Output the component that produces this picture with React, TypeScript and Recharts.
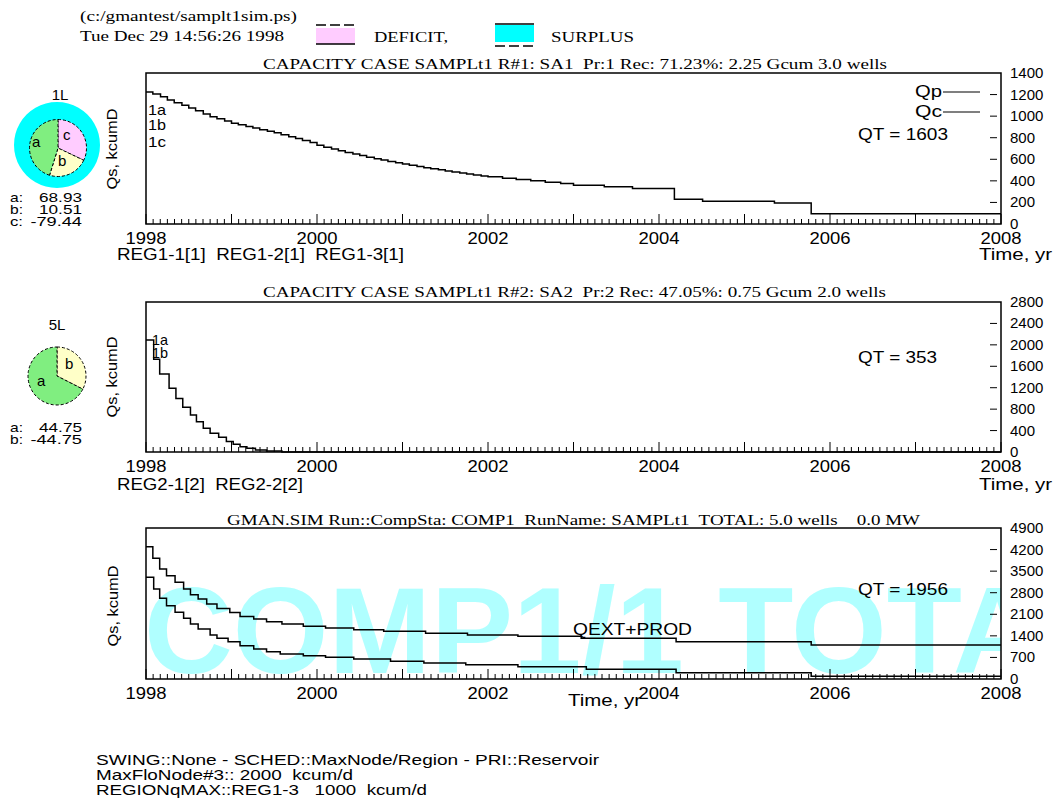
import React from 'react';
import { LineChart, Line, XAxis, YAxis, ReferenceArea, PieChart, Pie, Cell } from 'recharts';

const SANS = '"Liberation Sans", Arial, Helvetica, sans-serif';
const SERIF = '"Liberation Serif", "Times New Roman", serif';

// ---------- axis tick labels ----------
const yearLabels = [1998, 2000, 2002, 2004, 2006, 2008];
const monthTicks: number[] = Array.from({ length: 121 }, (_, i) => 1998 + i / 12);
const ticks1 = [0, 200, 400, 600, 800, 1000, 1200, 1400];
const ticks2 = [0, 400, 800, 1200, 1600, 2000, 2400, 2800];
const ticks3 = [0, 700, 1400, 2100, 2800, 3500, 4200, 4900];

// ---------- panel 1 : SA1 Qp ----------
const p1Years = [
  1998.00, 1998.08, 1998.17, 1998.25, 1998.33, 1998.42, 1998.50, 1998.58, 1998.67, 1998.75, 1998.83, 1998.92,
  1999.00, 1999.08, 1999.17, 1999.25, 1999.33, 1999.42, 1999.50, 1999.58, 1999.67, 1999.75, 1999.83, 1999.92,
  2000.00, 2000.08, 2000.17, 2000.25, 2000.33, 2000.42, 2000.50, 2000.58, 2000.67, 2000.75, 2000.83, 2000.92,
  2001.00, 2001.08, 2001.17, 2001.25, 2001.33, 2001.42, 2001.50, 2001.58, 2001.67, 2001.75, 2001.83, 2001.92,
  2002.00, 2002.17, 2002.33, 2002.50, 2002.67, 2002.85,
  2003.00, 2003.36, 2003.69,
  2004.18, 2004.51, 2005.35, 2005.78, 2008.00,
];
const p1Qp = [
  1225, 1205, 1180, 1150, 1125, 1100, 1075, 1050, 1020, 995, 975, 955,
  935, 920, 905, 890, 875, 860, 845, 828, 810, 792, 775, 755,
  730, 712, 695, 678, 662, 648, 634, 620, 606, 593, 580, 568,
  556, 545, 533, 522, 512, 502, 492, 482, 473, 464, 455, 446,
  438, 425, 413, 400, 388, 375,
  360, 345, 330,
  230, 212, 195, 95, 95,
];

// ---------- panel 2 : SA2 Qp ----------
const p2Years = [1998.00, 1998.09, 1998.16, 1998.27, 1998.35, 1998.43, 1998.52, 1998.59, 1998.67, 1998.75, 1998.85, 1998.94, 1999.02, 1999.10, 1999.18, 1999.28, 1999.41, 1999.59, 2008.00];
const p2Qp = [2090, 1730, 1456, 1190, 1000, 835, 690, 565, 445, 350, 275, 195, 145, 100, 70, 37, 18, 0, 0];

// ---------- panel 3 : TOTAL ----------
const p3ExtYears = [1998.00, 1998.08, 1998.16, 1998.24, 1998.34, 1998.44, 1998.52, 1998.61, 1998.71, 1998.83, 1998.98, 1999.10, 1999.26, 1999.41, 1999.59, 1999.84, 2000.10, 2000.43, 2000.78, 2001.27, 2001.76, 2002.35, 2003.09, 2004.20, 2005.78, 2008.00];
const p3ExtProd = [4290, 3915, 3570, 3350, 3140, 2920, 2730, 2600, 2430, 2290, 2160, 2030, 1950, 1860, 1785, 1710, 1655, 1600, 1547, 1482, 1428, 1385, 1320, 1211, 1103, 1103];
const p3ProdYears = [1998.00, 1998.09, 1998.16, 1998.24, 1998.34, 1998.44, 1998.52, 1998.61, 1998.75, 1998.83, 1998.96, 1999.10, 1999.26, 1999.41, 1999.57, 1999.84, 2000.10, 2000.43, 2000.86, 2001.25, 2001.74, 2002.35, 2003.15, 2004.20, 2005.78, 2008.00];
const p3Prod = [3300, 2920, 2620, 2380, 2165, 1970, 1785, 1620, 1430, 1320, 1210, 1080, 975, 885, 810, 755, 705, 650, 575, 520, 465, 400, 320, 200, 92, 92];

// ---------- pies ----------
const pie1Names = ['c', 'b', 'a'];
const pie1Shares = [32.1, 22.7, 45.2];
const pie1Shown = [['a:', '68.93'], ['b:', '10.51'], ['c:', '-79.44']];
const pie2Names = ['b', 'a'];
const pie2Shares = [32.5, 67.5];
const pie2Shown = [['a:', '44.75'], ['b:', '-44.75']];
const surplusRing = [{ name: 'SURPLUS', value: 1 }];
const sliceColor: Record<string, string> = { a: '#80EE80', b: '#FFFFC8', c: '#FFCCFF' };

const rows = (ts: number[], vs: number[]) => ts.map((t, i) => ({ t, v: vs[i] }));

const XTick = (props: any) => {
  const { x, y, payload } = props;
  const v = payload.value as number;
  const yr = Math.round(v);
  const isYear = Math.abs(v - yr) < 1e-6;
  const len = isYear ? 10 : 5;
  return (
    <g>
      <line x1={x} x2={x} y1={y} y2={y - len} stroke="#000" strokeWidth={1} />
      {isYear && yearLabels.includes(yr) && (
        <text x={x} y={y + 20} textAnchor="middle" fontFamily={SANS} fontSize={16} textLength={41} lengthAdjust="spacingAndGlyphs">{yr}</text>
      )}
    </g>
  );
};

const makeYTick = (max: number) => (props: any) => {
  const { x, y, payload } = props;
  const v = payload.value as number;
  return (
    <g>
      {v !== 0 && v !== max && <line x1={x - 11} x2={x - 4} y1={y} y2={y} stroke="#000" strokeWidth={1} />}
      <text x={x + 9} y={y + 5} fontFamily={SANS} fontSize={15}>{v}</text>
    </g>
  );
};

type Series = { data: { t: number; v: number }[]; key: string };

function Panel({ top, height, plotTop, plotBottom, yMax, yTicks, series }: { top: number; height: number; plotTop: number; plotBottom: number; yMax: number; yTicks: number[]; series: Series[] }) {
  const margin = { top: plotTop - top, right: 7, left: 146, bottom: top + height - plotBottom - 20 };
  return (
    <div style={{ position: 'absolute', left: 0, top, width: 1058, height }}>
      <LineChart width={1058} height={height} margin={margin}>
        <XAxis type="number" dataKey="t" domain={[1998, 2008]} ticks={monthTicks} interval={0} tick={XTick} tickLine={false} axisLine={false} height={20} tickSize={0} tickMargin={0} allowDuplicatedCategory={false} />
        <YAxis type="number" orientation="right" domain={[0, yMax]} ticks={yTicks} interval={0} tick={makeYTick(yMax)} tickLine={false} axisLine={false} width={50} tickSize={0} tickMargin={0} />
        <ReferenceArea x1={1998} x2={2008} y1={0} y2={yMax} fill="none" fillOpacity={0} stroke="#000" strokeWidth={1.5} />
        {series.map((s) => (
          <Line key={s.key} data={s.data} dataKey="v" name={s.key} type="stepAfter" stroke="#000" strokeWidth={1.5} dot={false} activeDot={false} isAnimationActive={false} />
        ))}
      </LineChart>
    </div>
  );
}

const T = ({ x, y, w, size = 15, font = SANS, anchor = 'start', children, weight }: any) => (
  <text x={x} y={y} fontSize={size} fontFamily={font} textAnchor={anchor} fontWeight={weight} textLength={w} lengthAdjust={w ? 'spacingAndGlyphs' : undefined} fill="#000" xmlSpace="preserve" style={{ whiteSpace: 'pre' }}>{children}</text>
);

export default function App() {
  const pie1Data = pie1Names.map((n, i) => ({ name: n, value: pie1Shares[i] }));
  const pie2Data = pie2Names.map((n, i) => ({ name: n, value: pie2Shares[i] }));
  return (
    <div style={{ position: 'absolute', left: 0, top: 0, width: 1058, height: 809, background: '#fff', overflow: 'hidden' }}>
      {/* watermark behind panel 3 */}
      <svg style={{ position: 'absolute', left: 146, top: 528, overflow: 'hidden' }} width={855} height={151}>
        <text x={-2} y={145} fontFamily={SANS} fontWeight="bold" fontSize={123} fill="#B0FFFF">COMP1/1 TOTAL</text>
      </svg>

      <Panel top={60} height={190} plotTop={73} plotBottom={224} yMax={1400} yTicks={ticks1} series={[{ key: 'Qp', data: rows(p1Years, p1Qp) }]} />
      <Panel top={290} height={185} plotTop={302} plotBottom={452} yMax={2800} yTicks={ticks2} series={[{ key: 'Qp', data: rows(p2Years, p2Qp) }]} />
      <Panel top={515} height={195} plotTop={528} plotBottom={679} yMax={4900} yTicks={ticks3} series={[{ key: 'QEXT+PROD', data: rows(p3ExtYears, p3ExtProd) }, { key: 'PROD', data: rows(p3ProdYears, p3Prod) }]} />

      {/* pies */}
      <div style={{ position: 'absolute', left: 0, top: 90, width: 120, height: 115 }}>
        <PieChart width={120} height={115} margin={{ top: 0, right: 0, bottom: 0, left: 0 }}>
          <Pie data={surplusRing} dataKey="value" cx={57} cy={55} outerRadius={43} innerRadius={0} fill="#00FFFF" stroke="none" isAnimationActive={false} />
          <Pie data={pie1Data} dataKey="value" cx={58} cy={58} outerRadius={28.5} startAngle={90} endAngle={-270} stroke="#000" strokeWidth={1} strokeDasharray="3 2" isAnimationActive={false}>
            {pie1Data.map((d) => <Cell key={d.name} fill={sliceColor[d.name]} />)}
          </Pie>
        </PieChart>
      </div>
      <div style={{ position: 'absolute', left: 0, top: 330, width: 120, height: 95 }}>
        <PieChart width={120} height={95} margin={{ top: 0, right: 0, bottom: 0, left: 0 }}>
          <Pie data={pie2Data} dataKey="value" cx={57} cy={46} outerRadius={29} startAngle={90} endAngle={-270} stroke="#000" strokeWidth={1} strokeDasharray="3 2" isAnimationActive={false}>
            {pie2Data.map((d) => <Cell key={d.name} fill={sliceColor[d.name]} />)}
          </Pie>
        </PieChart>
      </div>

      {/* text overlay */}
      <svg style={{ position: 'absolute', left: 0, top: 0, pointerEvents: 'none' }} width={1058} height={809}>
        {/* header */}
        <T x={80} y={21} w={217} font={SERIF}>(c:/gmantest/samplt1sim.ps)</T>
        <T x={80} y={41} w={204} font={SERIF}>Tue Dec 29 14:56:26 1998</T>
        <line x1={316} x2={355} y1={25} y2={25} stroke="#000" strokeWidth={1.5} strokeDasharray="10 4" />
        <rect x={316} y={28} width={39} height={16} fill="#FFCCFF" />
        <line x1={316} x2={355} y1={44} y2={44} stroke="#000" strokeWidth={1.5} />
        <T x={374} y={42} w={74} font={SERIF}>DEFICIT,</T>
        <line x1={495} x2={534} y1={24} y2={24} stroke="#000" strokeWidth={1.5} />
        <rect x={495} y={25} width={39} height={17} fill="#00FFFF" />
        <line x1={495} x2={534} y1={46} y2={46} stroke="#000" strokeWidth={1.5} strokeDasharray="10 4" />
        <T x={551} y={42} w={83} font={SERIF}>SURPLUS</T>

        {/* titles */}
        <T x={263} y={69} w={624} font={SERIF}>CAPACITY CASE SAMPLt1 R#1: SA1  Pr:1 Rec: 71.23%: 2.25 Gcum 3.0 wells</T>
        <T x={263} y={297} w={623} font={SERIF}>CAPACITY CASE SAMPLt1 R#2: SA2  Pr:2 Rec: 47.05%: 0.75 Gcum 2.0 wells</T>
        <T x={227} y={525} w={693} font={SERIF}>GMAN.SIM Run::CompSta: COMP1  RunName: SAMPLt1  TOTAL: 5.0 wells    0.0 MW</T>

        {/* y axis titles */}
        <g transform="translate(117,149) rotate(-90)"><T x={0} y={0} w={81} anchor="middle">Qs, kcumD</T></g>
        <g transform="translate(117,377) rotate(-90)"><T x={0} y={0} w={81} anchor="middle">Qs, kcumD</T></g>
        <g transform="translate(118,606) rotate(-90)"><T x={0} y={0} w={81} anchor="middle">Qs, kcumD</T></g>

        {/* panel 1 annotations */}
        <T x={148} y={115} w={18}>1a</T>
        <T x={148} y={130} w={18}>1b</T>
        <T x={148} y={147} w={18}>1c</T>
        <T x={942} y={97} w={27} anchor="end" size={16}>Qp</T>
        <line x1={943} x2={980} y1={92} y2={92} stroke="#000" strokeWidth={1.2} />
        <T x={942} y={117} w={27} anchor="end" size={16}>Qc</T>
        <line x1={943} x2={980} y1={112} y2={112} stroke="#000" strokeWidth={1.2} />
        <T x={858} y={140} w={90} size={16}>QT = 1603</T>
        <T x={117} y={260} w={287} size={16}>REG1-1[1]  REG1-2[1]  REG1-3[1]</T>
        <T x={979} y={260} w={73} size={16}>Time, yr</T>

        {/* panel 2 annotations */}
        <T x={152} y={345} w={16}>1a</T>
        <T x={152} y={358} w={16}>1b</T>
        <T x={858} y={363} w={79} size={16}>QT = 353</T>
        <T x={117} y={490} w={186} size={16}>REG2-1[2]  REG2-2[2]</T>
        <T x={979} y={490} w={73} size={16}>Time, yr</T>

        {/* panel 3 annotations */}
        <T x={858} y={595} w={90} size={16}>QT = 1956</T>
        <T x={573} y={635} w={119} size={16}>QEXT+PROD</T>
        <T x={568} y={706} w={73} size={16}>Time, yr</T>

        {/* pie annotations */}
        <T x={60} y={100} anchor="middle" size={15}>1L</T>
        <T x={32} y={147} size={15}>a</T>
        <T x={63} y={140} size={15}>c</T>
        <T x={58} y={166} size={15}>b</T>
        {pie1Shown.map((r, i) => (
          <g key={r[0]}>
            <T x={10} y={202 + i * 11.8} size={13} w={13}>{r[0]}</T>
            <T x={82} y={202 + i * 11.8} size={13} anchor="end" w={r[1].length * 8.6}>{r[1]}</T>
          </g>
        ))}
        <T x={57} y={330} anchor="middle" size={15}>5L</T>
        <T x={37} y={386} size={15}>a</T>
        <T x={65} y={369} size={15}>b</T>
        {pie2Shown.map((r, i) => (
          <g key={r[0]}>
            <T x={10} y={432 + i * 11.5} size={13} w={13}>{r[0]}</T>
            <T x={82} y={432 + i * 11.5} size={13} anchor="end" w={r[1].length * 8.6}>{r[1]}</T>
          </g>
        ))}

        {/* footer */}
        <T x={96} y={765} w={503} size={15}>SWING::None - SCHED::MaxNode/Region - PRI::Reservoir</T>
        <T x={96} y={780} w={257} size={15}>MaxFloNode#3:: 2000  kcum/d</T>
        <T x={96} y={795} w={331} size={15}>REGIONqMAX::REG1-3   1000  kcum/d</T>
      </svg>
    </div>
  );
}
